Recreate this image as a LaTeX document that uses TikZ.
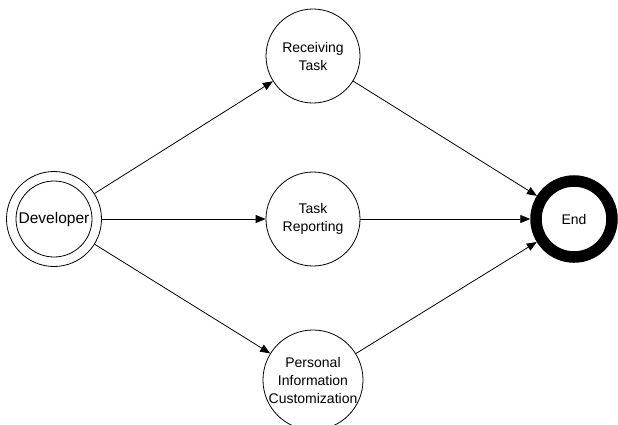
\documentclass[tikz,border=0pt]{standalone}
\usepackage{fontspec}
\setmainfont{Liberation Sans}
\usetikzlibrary{arrows.meta}
\begin{document}
\begin{tikzpicture}[x=1pt,y=-1pt,
  state/.style={circle,draw,line width=0.8pt,minimum size=94pt,inner sep=0pt,align=center,font=\fontsize{14}{18}\selectfont},
  conn/.style={line width=0.8pt,-{Triangle[length=10pt,width=8pt]}}]
\useasboundingbox (0,0) rectangle (618,424);
\node[circle,draw,line width=0.8pt,minimum size=95pt,inner sep=0pt] (dev) at (54,219) {};
\node[circle,draw,line width=0.8pt,minimum size=76pt,inner sep=0pt,font=\fontsize{15.5}{18}\selectfont] (devin) at (54,219) {Developer};
\node[state] (recv) at (313,56) {Receiving\\Task};
\node[state] (rep) at (313,219) {Task\\Reporting};
\node[state] (pic) at (313,380) {Personal\\Information\\Customization};
\node[circle,draw,line width=11.5pt,minimum size=76pt,inner sep=0pt,font=\fontsize{14}{18}\selectfont] (end) at (574,219) {End};
\draw[conn] (dev) -- (recv);
\draw[conn] (dev) -- (rep);
\draw[conn] (dev) -- (pic);
\draw[conn] (recv) -- (end);
\draw[conn] (rep) -- (end);
\draw[conn] (pic) -- (end);
\end{tikzpicture}
\end{document}
